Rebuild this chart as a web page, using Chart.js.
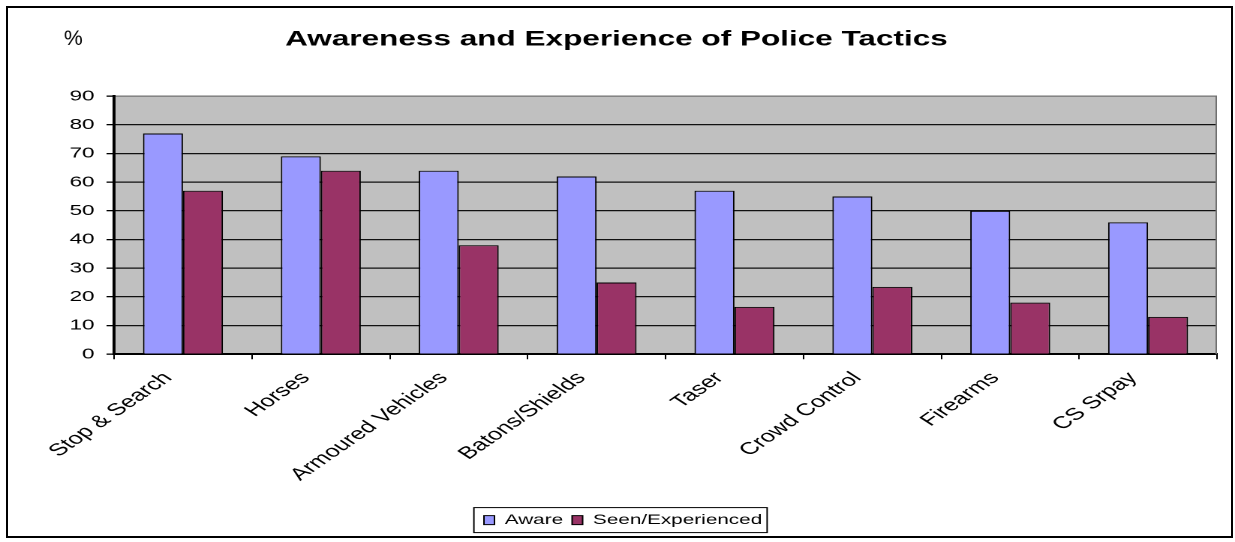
<!DOCTYPE html>
<html>
<head>
<title>Awareness and Experience of Police Tactics</title>
<script src="https://cdn.jsdelivr.net/npm/chart.js"></script>
<style>
  body { margin: 0; background: #fff; }
  #wrap { position: relative; width: 1235px; height: 542px; overflow: hidden; }
  #chart { position: absolute; left: 0; top: 0; }
  #frame { position: absolute; left: 6px; top: 6px; width: 1227px; height: 532px;
           box-sizing: border-box; border: 2px solid #000; pointer-events: none; }
</style>
</head>
<body>
<div id="wrap">
  <canvas id="chart" width="823" height="542" style="width:1235px;height:542px"></canvas>
  <div id="frame"></div>
</div>
<script>
const categories = ['Stop & Search', 'Horses', 'Armoured Vehicles', 'Batons/Shields',
                    'Taser', 'Crowd Control', 'Firearms', 'CS Srpay'];
const aware = [77, 69, 64, 62, 57, 55, 50, 46];
const seen  = [57, 64, 38, 25, 16.5, 23.5, 18, 13];
const yMax = 90;
const yStep = 10;

// the original picture was stretched sideways, so the canvas is drawn narrow and widened by css
const SX = 1235 / 823;
const FONT = '"Liberation Sans", Arial, sans-serif';

const decor = {
  id: 'decor',
  beforeDraw(chart) {
    const a = chart.chartArea, c = chart.ctx;
    c.save();
    c.fillStyle = '#c0c0c0';
    c.fillRect(a.left, a.top, a.right - a.left, a.bottom - a.top);
    c.restore();
  },
  afterLayout(chart) {
    // nudge title and legend to where they sit in the picture
    chart.titleBlock.left += 5.3; chart.titleBlock.right += 5.3;
    chart.legend.left += 9.7; chart.legend.right += 9.7;
  },
  afterDraw(chart) {
    const a = chart.chartArea, c = chart.ctx;
    c.save();
    // right edge of plot
    c.strokeStyle = '#707070';
    c.lineWidth = 1;
    c.beginPath();
    c.moveTo(a.right - 0.5, a.top);
    c.lineTo(a.right - 0.5, a.bottom);
    c.stroke();
    // box round the legend
    const hb = chart.legend.legendHitBoxes;
    if (hb.length) {
      const l = Math.min(...hb.map(h => h.left)) - 6.7;
      const r = Math.max(...hb.map(h => h.left + h.width)) + 3.3;
      const t = Math.min(...hb.map(h => h.top));
      const b = Math.max(...hb.map(h => h.top + h.height));
      const cy = (t + b) / 2;
      c.strokeStyle = '#000';
      c.lineWidth = 1;
      c.strokeRect(l, cy - 12.5, r - l, 25);
    }
    // the "%" label is not stretched
    c.scale(1 / SX, 1);
    c.fillStyle = '#000';
    c.font = '21px ' + FONT;
    c.textBaseline = 'alphabetic';
    c.fillText('%', 64, 45);
    c.restore();
  }
};

new Chart(document.getElementById('chart'), {
  type: 'bar',
  data: {
    labels: categories,
    datasets: [
      { label: 'Aware', data: aware, backgroundColor: '#9999ff', borderColor: '#000', borderWidth: 1,
        categoryPercentage: 0.58, barPercentage: 1.0 },
      { label: 'Seen/Experienced', data: seen, backgroundColor: '#993366', borderColor: '#000', borderWidth: 1,
        categoryPercentage: 0.58, barPercentage: 1.0 }
    ]
  },
  options: {
    responsive: false,
    animation: false,
    devicePixelRatio: 2,
    layout: { padding: { left: 0, right: 12, top: 0, bottom: 5 } },
    plugins: {
      title: {
        display: true,
        text: 'Awareness and Experience of Police Tactics',
        color: '#000',
        font: { family: FONT, size: 21, weight: 'bold' },
        padding: { top: 27.2, bottom: 43.8 }
      },
      legend: {
        position: 'bottom',
        labels: { color: '#000', font: { family: FONT, size: 13.8 }, boxWidth: 7, boxHeight: 9, padding: 6 }
      },
      tooltip: { enabled: false }
    },
    scales: {
      x: {
        offset: true,
        grid: { offset: true, drawOnChartArea: false, tickLength: 5, color: '#000', lineWidth: 1 },
        border: { color: '#000', width: 2 },
        ticks: { color: '#000', font: { family: FONT, size: 17 }, minRotation: 46, maxRotation: 46,
                 autoSkip: false, labelOffset: -10, padding: 9 },
        afterFit(s) { s.height = 153; }
      },
      y: {
        min: 0, max: yMax,
        ticks: { stepSize: yStep, color: '#000', font: { family: FONT, size: 15 }, padding: 8 },
        grid: { color: c => c.tick && c.tick.value === yMax ? '#707070' : '#111', lineWidth: 1.3,
                tickLength: 5, tickColor: '#000' },
        border: { color: '#000', width: 2 },
        afterFit(s) { s.width = 76; }
      }
    }
  },
  plugins: [decor]
});
</script>
</body>
</html>
